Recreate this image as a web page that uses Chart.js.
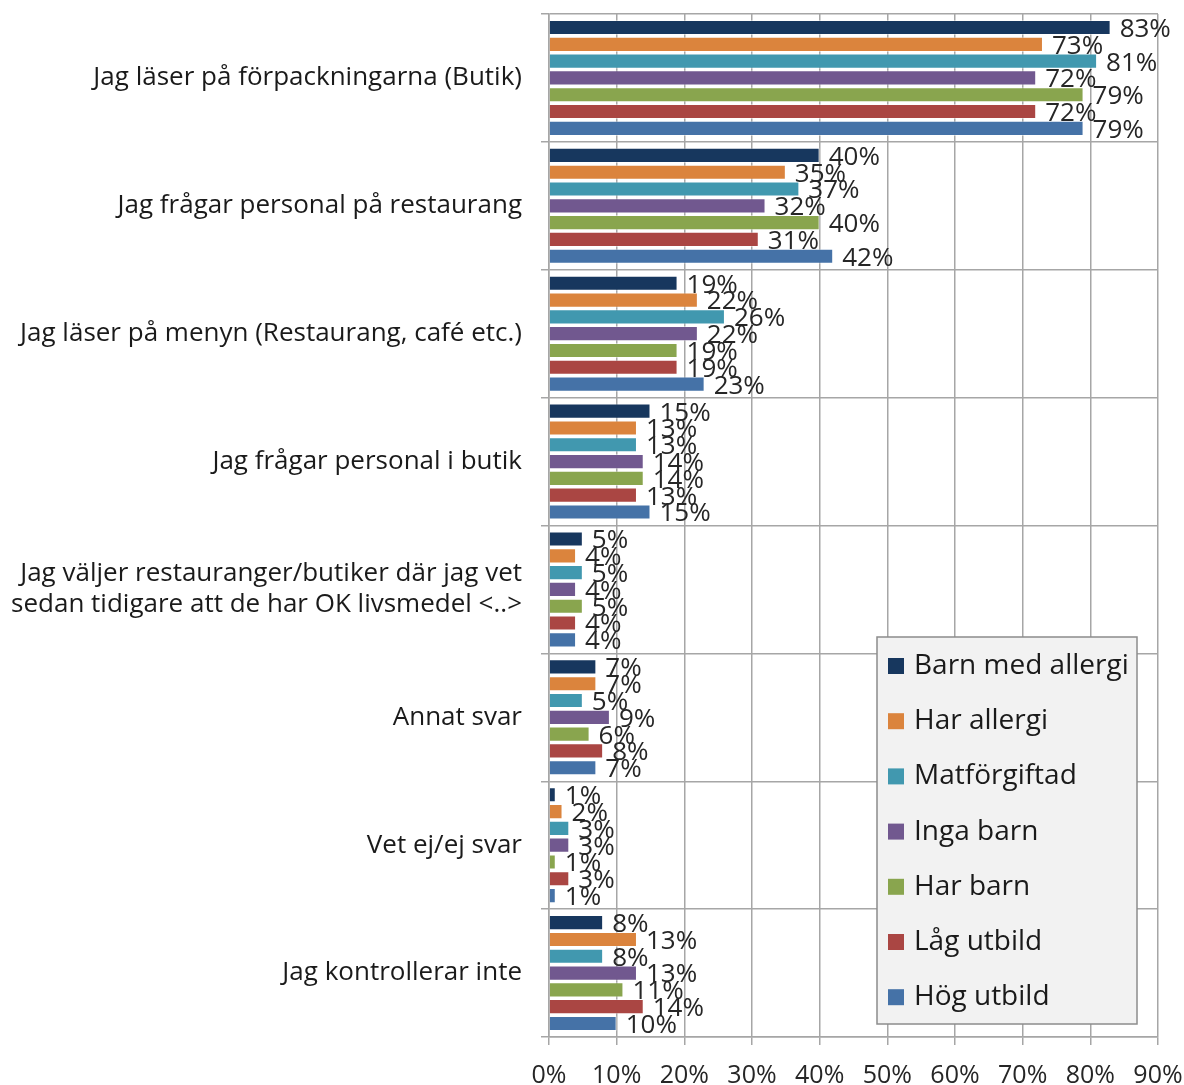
<!DOCTYPE html>
<html>
<head>
<meta charset="utf-8">
<script src="https://cdn.jsdelivr.net/npm/chart.js@4.4.1/dist/chart.umd.min.js"></script>
<style>
  html, body { margin: 0; padding: 0; background: #fff; }
  #wrap { width: 1184px; height: 1085px; }
</style>
</head>
<body>
<div id="wrap"><canvas id="kontroll_chart" width="1184" height="1085"></canvas></div>
<script>
// Hur man kontrollerar livsmedel - andel per grupp (%)
var categories = [
    'Jag läser på förpackningarna (Butik)',
    'Jag frågar personal på restaurang',
    'Jag läser på menyn (Restaurang, café etc.)',
    'Jag frågar personal i butik',
    ['Jag väljer restauranger/butiker där jag vet', 'sedan tidigare att de har OK livsmedel <..>'],
    'Annat svar',
    'Vet ej/ej svar',
    'Jag kontrollerar inte'
];

var barnMedAllergi = [83, 40, 19, 15, 5, 7, 1, 8];
var harAllergi     = [73, 35, 22, 13, 4, 7, 2, 13];
var matforgiftad   = [81, 37, 26, 13, 5, 5, 3, 8];
var ingaBarn       = [72, 32, 22, 14, 4, 9, 3, 13];
var harBarn        = [79, 40, 19, 14, 5, 6, 1, 11];
var lagUtbild      = [72, 31, 19, 13, 4, 8, 3, 14];
var hogUtbild      = [79, 42, 23, 15, 4, 7, 1, 10];

var xTicks = [0, 10, 20, 30, 40, 50, 60, 70, 80, 90];

var fontFamily = '"Open Sans", Lato, "Noto Sans", sans-serif';
var gridColor = '#a6a6a6';

function makeSet(label, data, color) {
    return {
        label: label,
        data: data,
        backgroundColor: color,
        borderColor: 'rgba(255, 255, 255, 0.45)',
        borderWidth: 1,
        barPercentage: 0.9,
        categoryPercentage: 0.92
    };
}

// Värdeetiketter till höger om varje stapel
var valueLabels = {
    id: 'valueLabels',
    afterDatasetsDraw: function(chart) {
        var ctx = chart.ctx;
        ctx.save();
        ctx.font = '26px ' + fontFamily;
        ctx.fillStyle = '#262626';
        ctx.textAlign = 'left';
        ctx.textBaseline = 'middle';
        chart.data.datasets.forEach(function(ds, i) {
            chart.getDatasetMeta(i).data.forEach(function(bar, j) {
                ctx.fillText(ds.data[j] + '%', bar.x + 9, bar.y + 2);
            });
        });
        ctx.restore();
    }
};

// Förklaringsruta nere till höger i diagramytan
var boxLegend = {
    id: 'boxLegend',
    afterDraw: function(chart) {
        var ctx = chart.ctx;
        var area = chart.chartArea;
        var w = 260, h = 387;
        var x = area.right - 21 - w;
        var y = area.bottom - 13 - h;
        ctx.save();
        ctx.fillStyle = '#f2f2f2';
        ctx.strokeStyle = '#8c8c8c';
        ctx.lineWidth = 1.5;
        ctx.fillRect(x, y, w, h);
        ctx.strokeRect(x, y, w, h);
        ctx.font = '28px ' + fontFamily;
        ctx.textAlign = 'left';
        ctx.textBaseline = 'middle';
        chart.data.datasets.forEach(function(ds, i) {
            var cy = y + 29 + i * 55.2;
            ctx.fillStyle = ds.backgroundColor;
            ctx.fillRect(x + 11, cy - 8, 16, 16);
            ctx.fillStyle = '#1a1a1a';
            ctx.fillText(ds.label, x + 37, cy);
        });
        ctx.restore();
    }
};

var ctx = document.getElementById('kontroll_chart');

new Chart(ctx, {
    type: 'bar',
    data: {
        labels: categories,
        datasets: [
            makeSet('Barn med allergi', barnMedAllergi, '#17375e'),
            makeSet('Har allergi', harAllergi, '#db843d'),
            makeSet('Matförgiftad', matforgiftad, '#4198af'),
            makeSet('Inga barn', ingaBarn, '#71588f'),
            makeSet('Har barn', harBarn, '#89a54e'),
            makeSet('Låg utbild', lagUtbild, '#aa4643'),
            makeSet('Hög utbild', hogUtbild, '#4572a7')
        ]
    },
    options: {
        indexAxis: 'y',
        responsive: false,
        animation: false,
        layout: { padding: { top: 14, right: 26, left: 0, bottom: 0 } },
        plugins: {
            legend: { display: false },
            tooltip: { enabled: false }
        },
        scales: {
            x: {
                min: 0,
                max: 90,
                afterBuildTicks: function(scale) {
                    scale.ticks = xTicks.map(function(v) { return { value: v }; });
                },
                afterFit: function(scale) {
                    scale.height = 48;
                    scale.paddingLeft = 0;
                    scale.paddingRight = 0;
                },
                ticks: {
                    color: '#262626',
                    font: { family: fontFamily, size: 25 },
                    padding: 16,
                    maxRotation: 0,
                    callback: function(v) { return v + '%'; }
                },
                grid: {
                    color: gridColor,
                    lineWidth: 1.5,
                    tickLength: 8,
                    drawTicks: true
                },
                border: { color: gridColor, width: 1.5 }
            },
            y: {
                afterFit: function(scale) {
                    scale.width = 549;
                    scale.paddingTop = 0;
                    scale.paddingBottom = 0;
                },
                ticks: {
                    color: '#1a1a1a',
                    font: { family: fontFamily, size: 26 },
                    padding: 19
                },
                grid: {
                    offset: true,
                    color: gridColor,
                    lineWidth: 1.5,
                    tickLength: 8
                },
                border: { color: gridColor, width: 1.5 }
            }
        }
    },
    plugins: [valueLabels, boxLegend]
});
</script>
</body>
</html>
